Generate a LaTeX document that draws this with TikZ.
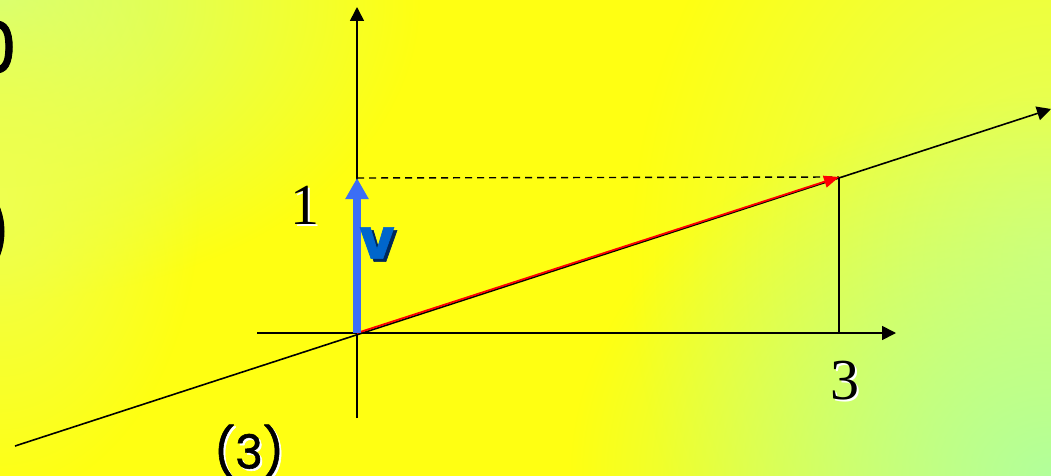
\documentclass[tikz,border=0pt]{standalone}
\usepackage{fontspec}
\setmainfont{Liberation Serif}
\newfontfamily\roundfont[FakeBold=1.2]{Poppins}
\usetikzlibrary{arrows.meta,fadings}
\definecolor{bgbase}{RGB}{255,255,18}
\definecolor{bgtl}{RGB}{210,255,125}
\definecolor{bgright}{RGB}{222,255,105}
\definecolor{bgbr}{RGB}{178,255,155}
\definecolor{bgleft}{RGB}{238,255,80}
\definecolor{vecblue}{RGB}{60,110,245}
\definecolor{vlab}{RGB}{0,102,204}
\definecolor{vshadow}{RGB}{0,40,90}
\tikzfading[name=softfade, inner color=transparent!0, outer color=transparent!100]
\tikzset{
  axis/.style={line width=1.6pt, -{Triangle[length=14pt,width=14pt]}},
  thinline/.style={line width=1.6pt},
  dashline/.style={line width=1.4pt, dash pattern=on 7pt off 5pt},
  redvec/.style={line width=1.8pt, red, -{Triangle[length=15pt,width=12pt]}},
  bluevec/.style={line width=7.5pt, vecblue, -{Triangle[length=21pt,width=22pt]}},
  serifnum/.style={font=\fontsize{58}{58}\selectfont, inner sep=0pt},
  roundtxt/.style={font=\roundfont\fontsize{47}{47}\selectfont, inner sep=0pt},
  edgetxt/.style={font=\roundfont\fontsize{72}{72}\selectfont, inner sep=0pt, anchor=east},
  vtxt/.style={font=\roundfont\bfseries\fontsize{56}{56}\selectfont, inner sep=0pt},
  tint/.style={fill=#1, path fading=softfade}
}
\begin{document}
\begin{tikzpicture}[x=1pt,y=-1pt]
\useasboundingbox (0,0) rectangle (1051,476);
% background
\begin{scope}
\clip (0,0) rectangle (1051,476);
\fill[bgbase] (0,0) rectangle (1051,476);
\fill[tint=bgright] (1051,260) ellipse [x radius=420pt, y radius=520pt];
\fill[tint=bgbr] (1051,476) ellipse [x radius=480pt, y radius=380pt];
\fill[tint=bgtl] (0,0) ellipse [x radius=420pt, y radius=300pt];
\fill[tint=bgleft] (0,200) ellipse [x radius=200pt, y radius=300pt];
% clipped left texts
\node[edgetxt] (zero) at (17,47) {0};
\node[edgetxt] (paren) at (12,231) {)};
\end{scope}
% coordinates
\coordinate (O) at (357,333);
\coordinate (ytop) at (357,7);
\coordinate (ybot) at (357,418);
\coordinate (xleft) at (257,333);
\coordinate (xright) at (896,333);
\coordinate (dleft) at (15,446);
\coordinate (dright) at (1051,109);
\coordinate (V) at (357,178);
\coordinate (P) at (839,177);
\coordinate (X) at (839,333);
% axes
\draw[axis] (ybot) -- (ytop);
\draw[axis] (xleft) -- (xright);
\draw[axis] (dleft) -- (dright);
% projections
\draw[dashline] (V) -- (P);
\draw[thinline] (P) -- (X);
% vectors
\draw[redvec] (O) -- (P);
\draw[bluevec] (O) -- (V);
% labels
\node[serifnum, white] at (307,207) {1};
\node[serifnum] (one) at (305,205) {1};
\node[serifnum, white] at (847,383) {3};
\node[serifnum] (three) at (845,381) {3};
\node[vtxt, vshadow] at (380,246) {v};
\node[vtxt, vlab] (vlabel) at (377,243) {v};
\node[roundtxt, white] at (251,453) {(3)};
\node[roundtxt] (eqno) at (249,451) {(3)};
\end{tikzpicture}
\end{document}
